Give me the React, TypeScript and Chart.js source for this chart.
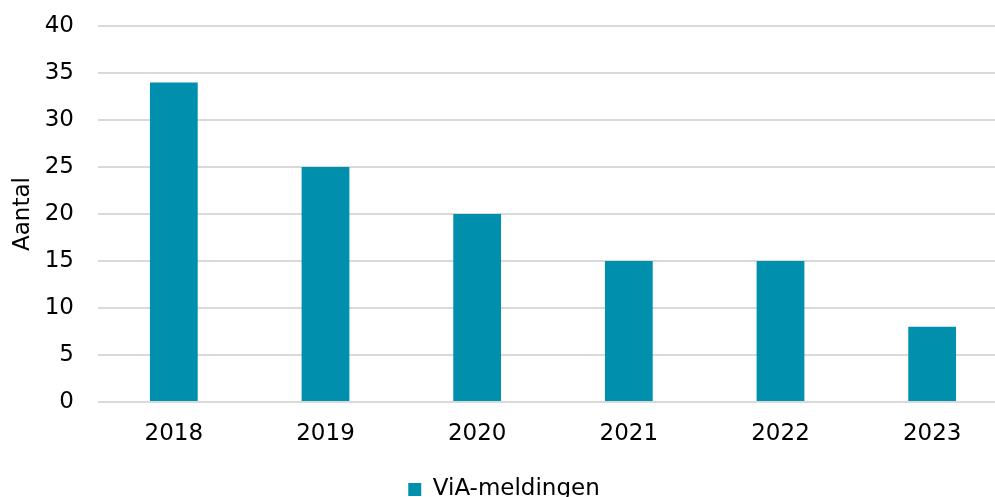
import React, { useEffect, useRef } from "react";
import { Chart, registerables } from "chart.js";

Chart.register(...registerables);

const categories = ["2018", "2019", "2020", "2021", "2022", "2023"];
const seriesName = "ViA-meldingen";
const values = [34, 25, 20, 15, 15, 8];
const yTitle = "Aantal";

const FONT = "'DejaVu Sans', Verdana, sans-serif";

export default function App() {
  const ref = useRef<HTMLCanvasElement | null>(null);
  useEffect(() => {
    if (!ref.current) return;
    const chart = new Chart(ref.current, {
      type: "bar",
      data: {
        labels: categories,
        datasets: [
          {
            label: seriesName,
            data: values,
            backgroundColor: "#0090AE",
            borderWidth: 0,
            barPercentage: 0.315,
            categoryPercentage: 1,
          },
        ],
      },
      options: {
        responsive: false,
        animation: false,
        layout: { padding: { top: 26, right: 12, left: 0, bottom: 0 } },
        plugins: {
          tooltip: { enabled: false },
          legend: {
            position: "bottom",
            labels: {
              color: "#000",
              font: { family: FONT, size: 23 },
              boxWidth: 13,
              boxHeight: 13,
              padding: 10,
            },
          },
        },
        scales: {
          x: {
            grid: { display: false, drawTicks: false },
            border: { display: false },
            ticks: { color: "#000", font: { family: FONT, size: 23 }, padding: 18, maxRotation: 0 },
            afterFit: (s: any) => {
              s.height = 66;
            },
          },
          y: {
            min: 0,
            max: 40,
            ticks: { stepSize: 5, color: "#000", font: { family: FONT, size: 23 }, padding: 24 },
            grid: { color: "#d9d9d9", lineWidth: 2, drawTicks: false },
            border: { display: false },
            title: {
              display: true,
              text: yTitle,
              color: "#000",
              font: { family: FONT, size: 23 },
              padding: { top: 9, bottom: 0 },
            },
            afterFit: (s: any) => {
              s.width = 98;
              s.paddingTop = 0;
              s.paddingBottom = 0;
            },
          },
        },
      },
    });
    return () => chart.destroy();
  }, []);
  return (
    <div style={{ position: "fixed", left: 0, top: 0, width: 1020, height: 511, background: "#fff" }}>
      <canvas ref={ref} width={1020} height={511} style={{ width: 1020, height: 511 }} />
    </div>
  );
}
